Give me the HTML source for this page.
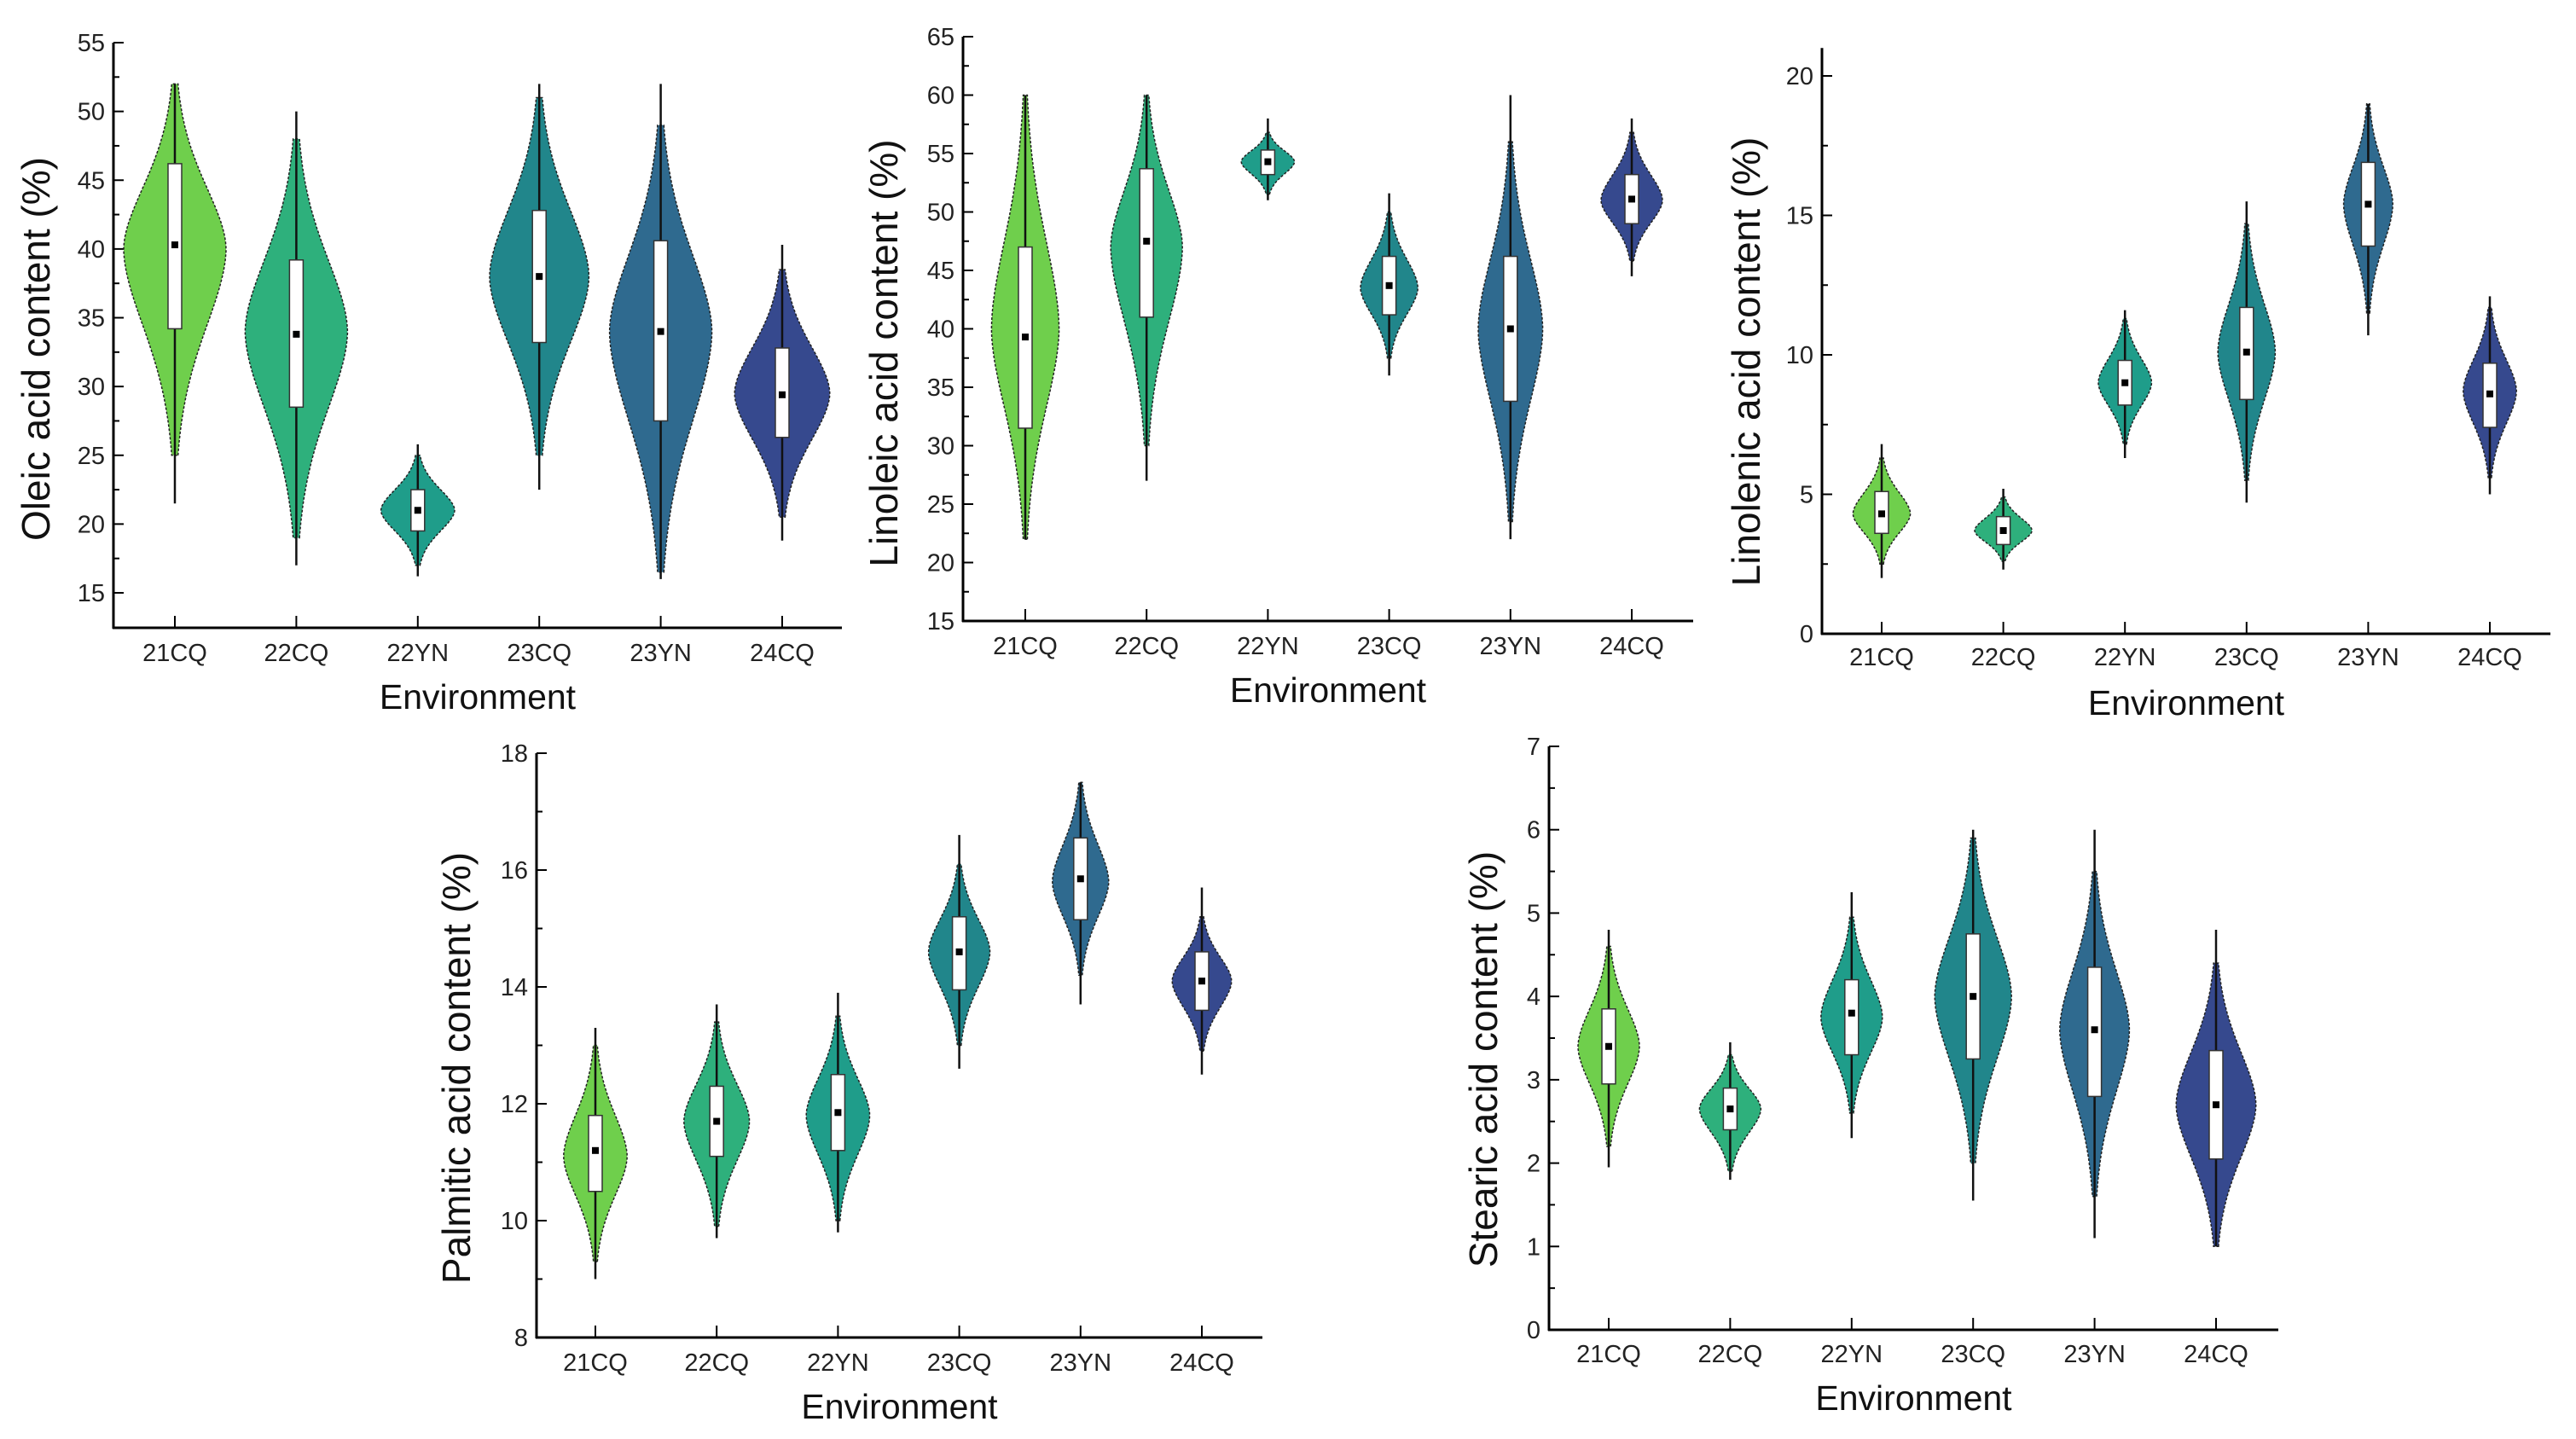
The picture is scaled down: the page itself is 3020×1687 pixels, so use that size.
<!DOCTYPE html>
<html><head><meta charset="utf-8">
<style>
html,body{margin:0;padding:0;background:#fff;}
svg{display:block;font-family:"Liberation Sans",Arial,sans-serif;}
</style></head>
<body>
<svg id="chart" width="3020" height="1687" viewBox="0 0 3020 1687" xmlns="http://www.w3.org/2000/svg">
<rect x="0" y="0" width="3020" height="1687" fill="#fff"/>
</svg>
<script>
const categories = ["21CQ","22CQ","22YN","23CQ","23YN","24CQ"];
const colors = ["#6fcf4c","#2eb07c","#1f9d8a","#21868b","#2f6a8f","#36498e"];

// Oleic
const oleicMin = [25, 19, 17, 25, 16.5, 20.5];
const oleicMax = [52, 48, 25, 51, 49, 38.5];
const oleicWLo = [21.5, 17, 16.2, 22.5, 16, 18.8];
const oleicWHi = [52, 50, 25.8, 52, 52, 40.3];
const oleicQ1 = [34.2, 28.5, 19.5, 33.2, 27.5, 26.3];
const oleicQ3 = [46.2, 39.2, 22.5, 42.8, 40.6, 32.8];
const oleicMean = [40.3, 33.8, 21, 38, 34, 29.4];
const oleicMode = [40, 34, 21, 38, 34, 29.5];
const oleicWidth = [1.0, 1.0, 0.72, 0.97, 1.0, 0.93];
const oleicTicks = [15,20,25,30,35,40,45,50,55];

// Linoleic
const linoMin = [22, 30, 51.5, 37.5, 23.5, 45.8];
const linoMax = [60, 60, 56.8, 50, 56, 56.8];
const linoWLo = [22, 27, 51, 36, 22, 44.5];
const linoWHi = [60, 60, 58, 51.6, 60, 58];
const linoQ1 = [31.5, 41, 53.2, 41.2, 33.8, 49];
const linoQ3 = [47, 53.7, 55.3, 46.2, 46.2, 53.2];
const linoMean = [39.3, 47.5, 54.3, 43.7, 40, 51.1];
const linoMode = [40, 47, 54.3, 43.5, 40, 51];
const linoWidth = [0.66, 0.7, 0.52, 0.56, 0.63, 0.6];
const linoTicks = [15,20,25,30,35,40,45,50,55,60,65];

// Linolenic
const lnnMin = [2.5, 2.6, 6.8, 5.5, 11.5, 5.6];
const lnnMax = [6.3, 4.9, 11.3, 14.7, 19, 11.7];
const lnnWLo = [2, 2.3, 6.3, 4.7, 10.7, 5.0];
const lnnWHi = [6.8, 5.2, 11.6, 15.5, 19, 12.1];
const lnnQ1 = [3.6, 3.2, 8.2, 8.4, 13.9, 7.4];
const lnnQ3 = [5.1, 4.2, 9.8, 11.7, 16.9, 9.7];
const lnnMean = [4.3, 3.7, 9, 10.1, 15.4, 8.6];
const lnnMode = [4.3, 3.7, 9, 10.1, 15.4, 8.7];
const lnnWidth = [0.56, 0.56, 0.52, 0.56, 0.48, 0.52];
const lnnTicks = [0,5,10,15,20];

// Palmitic
const palMin = [9.3, 9.9, 10, 13.0, 14.2, 12.9];
const palMax = [13, 13.4, 13.5, 16.1, 17.5, 15.2];
const palWLo = [9, 9.7, 9.8, 12.6, 13.7, 12.5];
const palWHi = [13.3, 13.7, 13.9, 16.6, 17.5, 15.7];
const palQ1 = [10.5, 11.1, 11.2, 13.95, 15.15, 13.6];
const palQ3 = [11.8, 12.3, 12.5, 15.2, 16.55, 14.6];
const palMean = [11.2, 11.7, 11.85, 14.6, 15.85, 14.1];
const palMode = [11.1, 11.7, 11.8, 14.6, 15.8, 14.1];
const palWidth = [0.62, 0.64, 0.62, 0.6, 0.55, 0.58];
const palTicks = [8,10,12,14,16,18];

// Stearic
const steMin = [2.2, 1.9, 2.6, 2.0, 1.6, 1.0];
const steMax = [4.6, 3.3, 4.95, 5.9, 5.5, 4.4];
const steWLo = [1.95, 1.8, 2.3, 1.55, 1.1, 1.0];
const steWHi = [4.8, 3.45, 5.25, 6, 6, 4.8];
const steQ1 = [2.95, 2.4, 3.3, 3.25, 2.8, 2.05];
const steQ3 = [3.85, 2.9, 4.2, 4.75, 4.35, 3.35];
const steMean = [3.4, 2.65, 3.8, 4, 3.6, 2.7];
const steMode = [3.4, 2.65, 3.75, 4, 3.6, 2.7];
const steWidth = [0.6, 0.6, 0.6, 0.75, 0.68, 0.78];
const steTicks = [0,1,2,3,4,5,6,7];

const NS = "http://www.w3.org/2000/svg";
const svg = document.getElementById("chart");
function mk(tag, attrs, parent){
  const e = document.createElementNS(NS, tag);
  for (const k in attrs) e.setAttribute(k, attrs[k]);
  (parent||svg).appendChild(e);
  return e;
}

const panels = [
  {key:"oleic", title:"Oleic acid content (%)", ax:{x0:133,x1:987,y0:736,yTop:50},
   cx0:205, dx:142.4, catY:765, envY:817, titleX:46, titleY:409, maxW:60, minor:2.5, yMinPix:695, yMaxPix:50,
   d:[oleicMin,oleicMax,oleicWLo,oleicWHi,oleicQ1,oleicQ3,oleicMean,oleicMode,oleicWidth], ticks:oleicTicks},
  {key:"linoleic", title:"Linoleic acid content (%)", ax:{x0:1129,x1:1985,y0:728,yTop:43},
   cx0:1202, dx:142.2, catY:757, envY:809, titleX:1040, titleY:414, maxW:60, minor:2.5, yMinPix:728, yMaxPix:43,
   d:[linoMin,linoMax,linoWLo,linoWHi,linoQ1,linoQ3,linoMean,linoMode,linoWidth], ticks:linoTicks},
  {key:"linolenic", title:"Linolenic acid content (%)", ax:{x0:2136,x1:2990,y0:743,yTop:89,axTop:21},
   cx0:2206, dx:142.6, catY:770, envY:824, titleX:2051, titleY:424, maxW:60, minor:2.5, yMinPix:743, yMaxPix:89,
   d:[lnnMin,lnnMax,lnnWLo,lnnWHi,lnnQ1,lnnQ3,lnnMean,lnnMode,lnnWidth], ticks:lnnTicks},
  {key:"palmitic", title:"Palmitic acid content (%)", ax:{x0:629,x1:1480,y0:1568,yTop:883},
   cx0:698, dx:142.2, catY:1597, envY:1649, titleX:539, titleY:1252, maxW:60, minor:1, yMinPix:1568, yMaxPix:883,
   d:[palMin,palMax,palWLo,palWHi,palQ1,palQ3,palMean,palMode,palWidth], ticks:palTicks},
  {key:"stearic", title:"Stearic acid content (%)", ax:{x0:1816,x1:2671,y0:1559,yTop:875},
   cx0:1886, dx:142.4, catY:1587, envY:1639, titleX:1743, titleY:1242, maxW:60, minor:0.5, yMinPix:1559, yMaxPix:875,
   d:[steMin,steMax,steWLo,steWHi,steQ1,steQ3,steMean,steMode,steWidth], ticks:steTicks}
];

panels.forEach(p => {
  const a = p.ax;
  const g = mk("g", {});
  
  
  const tMin = p.ticks[0], tMax = p.ticks[p.ticks.length-1];
  const y = v => p.yMinPix + (v - tMin) / (tMax - tMin) * (p.yMaxPix - p.yMinPix);
  const x = i => p.cx0 + i * p.dx;
  const axTopPix = a.axTop !== undefined ? y(a.axTop) : p.yMaxPix;

  const yAxis = mk("line", {x1:a.x0, y1:a.y0+1, x2:a.x0, y2:axTopPix, stroke:"#000", "stroke-width":3}, g);
  
  
  const xAxis = mk("line", {x1:a.x0-1, y1:a.y0, x2:a.x1, y2:a.y0, stroke:"#000", "stroke-width":3}, g);
  
  

  p.ticks.forEach(t => {
    mk("line", {x1:a.x0, y1:y(t), x2:a.x0+12, y2:y(t), stroke:"#000", "stroke-width":2}, g);
    const tl = mk("text", {x:a.x0-10, y:y(t)+10, "text-anchor":"end", "font-size":29, fill:"#222"}, g);
    tl.textContent = t;
    
    
    const m = t + p.minor;
    if (m < tMax && y(m) > axTopPix) mk("line", {x1:a.x0, y1:y(m), x2:a.x0+7, y2:y(m), stroke:"#000", "stroke-width":2}, g);
  });

  const yt = mk("text", {x:p.titleX, y:p.titleY, "text-anchor":"middle", "font-size":46, fill:"#111",
    transform:`rotate(-90 ${p.titleX} ${p.titleY})`, "dominant-baseline":"middle"}, g);
  yt.textContent = p.title;
  
  
  const xt = mk("text", {x:(a.x0+a.x1)/2, y:p.envY+14, "text-anchor":"middle", "font-size":41, fill:"#111"}, g);
  xt.textContent = "Environment";
  
  

  const [vMin, vMax, wLo, wHi, q1, q3, mean, mode, wid] = p.d;
  categories.forEach((c, i) => {
    const cx = x(i);
    mk("line", {x1:cx, y1:a.y0, x2:cx, y2:a.y0-14, stroke:"#000", "stroke-width":2}, g);
    const cl = mk("text", {x:cx, y:p.catY+10, "text-anchor":"middle", "font-size":29, fill:"#222"}, g);
    cl.textContent = c;
    
    

    const W = p.maxW * wid[i];
    const sUp = (vMax[i] - mode[i]) / 2.6, sDn = (mode[i] - vMin[i]) / 2.6;
    const N = 80, right = [], left = [];
    for (let k = 0; k <= N; k++) {
      const v = vMin[i] + (vMax[i] - vMin[i]) * k / N;
      const s = v >= mode[i] ? sUp : sDn;
      const z = Math.abs((v - mode[i]) / s);
      const w = W * Math.exp(-0.5 * Math.pow(z, 1.8));
      right.push([cx + w, y(v)]);
      left.push([cx - w, y(v)]);
    }
    const pts = right.concat(left.reverse());
    const d = "M" + pts.map(q => q[0].toFixed(1) + "," + q[1].toFixed(1)).join("L") + "Z";
    const vp = mk("path", {d:d, fill:colors[i], stroke:"#222", "stroke-width":1.5, "stroke-dasharray":"3 2"}, g);
    
    

    const wl = mk("line", {x1:cx, y1:y(wLo[i]), x2:cx, y2:y(wHi[i]), stroke:"#111", "stroke-width":2.5}, g);
    
    
    const bx = mk("rect", {x:cx-8, y:y(q3[i]), width:16, height:y(q1[i])-y(q3[i]), fill:"#fff", stroke:"#333", "stroke-width":1.5}, g);
    
    
    const md = mk("rect", {x:cx-4, y:y(mean[i])-4, width:8, height:8, fill:"#000"}, g);
    
    
  });
});
</script>
</body></html>
